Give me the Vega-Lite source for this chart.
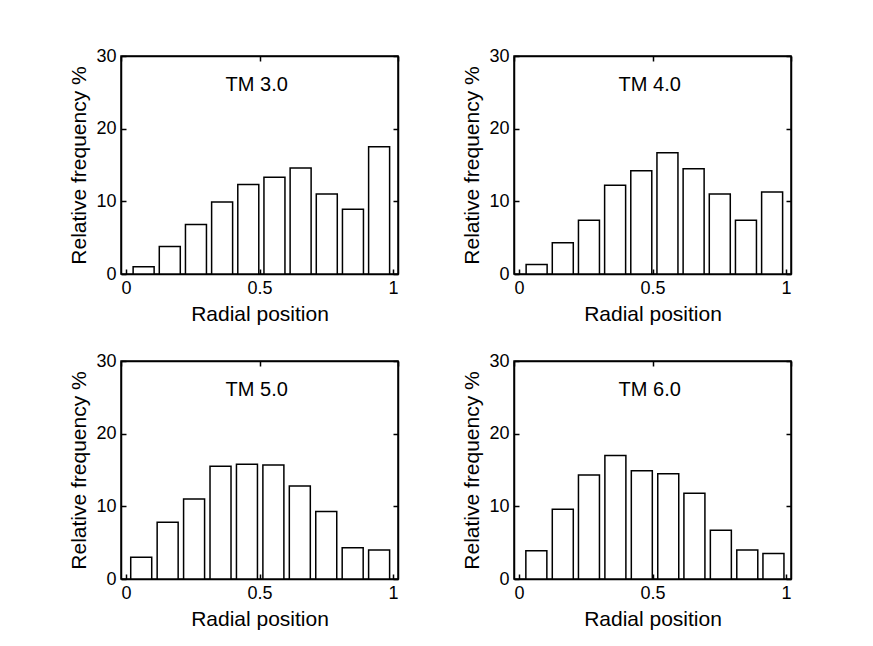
{
  "$schema": "https://vega.github.io/schema/vega-lite/v6.json",
  "padding": {"left": 68, "top": 46, "right": 5, "bottom": 5},
  "background": "white",
  "datasets": {
    "hist": [
      {"panel": "TM 3.0", "x": 0.066, "y": 1.0},
      {"panel": "TM 3.0", "x": 0.164, "y": 3.8},
      {"panel": "TM 3.0", "x": 0.262, "y": 6.8},
      {"panel": "TM 3.0", "x": 0.360, "y": 9.9},
      {"panel": "TM 3.0", "x": 0.458, "y": 12.3},
      {"panel": "TM 3.0", "x": 0.556, "y": 13.3},
      {"panel": "TM 3.0", "x": 0.654, "y": 14.6},
      {"panel": "TM 3.0", "x": 0.752, "y": 11.0},
      {"panel": "TM 3.0", "x": 0.850, "y": 8.9},
      {"panel": "TM 3.0", "x": 0.948, "y": 17.5},
      {"panel": "TM 4.0", "x": 0.066, "y": 1.3},
      {"panel": "TM 4.0", "x": 0.164, "y": 4.3},
      {"panel": "TM 4.0", "x": 0.262, "y": 7.4},
      {"panel": "TM 4.0", "x": 0.360, "y": 12.2},
      {"panel": "TM 4.0", "x": 0.458, "y": 14.2},
      {"panel": "TM 4.0", "x": 0.556, "y": 16.7},
      {"panel": "TM 4.0", "x": 0.654, "y": 14.5},
      {"panel": "TM 4.0", "x": 0.752, "y": 11.0},
      {"panel": "TM 4.0", "x": 0.850, "y": 7.4},
      {"panel": "TM 4.0", "x": 0.948, "y": 11.3},
      {"panel": "TM 5.0", "x": 0.057, "y": 3.0},
      {"panel": "TM 5.0", "x": 0.156, "y": 7.8},
      {"panel": "TM 5.0", "x": 0.255, "y": 11.0},
      {"panel": "TM 5.0", "x": 0.354, "y": 15.5},
      {"panel": "TM 5.0", "x": 0.453, "y": 15.8},
      {"panel": "TM 5.0", "x": 0.552, "y": 15.7},
      {"panel": "TM 5.0", "x": 0.651, "y": 12.8},
      {"panel": "TM 5.0", "x": 0.750, "y": 9.3},
      {"panel": "TM 5.0", "x": 0.849, "y": 4.3},
      {"panel": "TM 5.0", "x": 0.948, "y": 4.0},
      {"panel": "TM 6.0", "x": 0.065, "y": 3.9},
      {"panel": "TM 6.0", "x": 0.164, "y": 9.6},
      {"panel": "TM 6.0", "x": 0.262, "y": 14.3},
      {"panel": "TM 6.0", "x": 0.361, "y": 17.0},
      {"panel": "TM 6.0", "x": 0.460, "y": 14.9},
      {"panel": "TM 6.0", "x": 0.559, "y": 14.5},
      {"panel": "TM 6.0", "x": 0.657, "y": 11.8},
      {"panel": "TM 6.0", "x": 0.756, "y": 6.7},
      {"panel": "TM 6.0", "x": 0.855, "y": 4.0},
      {"panel": "TM 6.0", "x": 0.953, "y": 3.5}
    ]
  },
  "columns": 2,
  "spacing": {"row": 87, "column": 116},
  "bounds": "flush",
  "concat": [
    {
      "width": 277, "height": 218,
      "layer": [
        {
          "data": {"name": "hist"},
          "transform": [{"filter": "datum.panel == 'TM 3.0'"}],
          "mark": {"type": "bar", "fill": "white", "stroke": "black", "strokeWidth": 1.5, "size": 21},
          "encoding": {
            "x": {"field": "x", "type": "quantitative", "scale": {"domain": [0, 1], "nice": false, "zero": false}, "axis": {"values": [0, 0.5, 1], "format": "~g", "title": "Radial position"}},
            "y": {"field": "y", "type": "quantitative", "scale": {"domain": [0, 30], "nice": false}, "axis": {"values": [0, 10, 20, 30], "title": "Relative frequency %"}}
          }
        },
        {
          "data": {"values": [{"panel": "TM 3.0"}]},
          "mark": {"type": "text", "font": "Liberation Sans", "fontSize": 20, "baseline": "alphabetic", "color": "black"},
          "encoding": {
            "x": {"datum": 0.49, "type": "quantitative", "scale": {"domain": [0, 1], "nice": false, "zero": false}, "axis": {"orient": "top", "labels": false, "title": null, "values": [0, 0.5, 1]}},
            "y": {"datum": 25.2, "type": "quantitative", "scale": {"domain": [0, 30], "nice": false}, "axis": {"orient": "right", "labels": false, "title": null, "values": [0, 10, 20, 30]}},
            "text": {"field": "panel"}
          }
        }
      ],
      "resolve": {"scale": {"x": "independent", "y": "independent"}}
    },
    {
      "width": 277, "height": 218,
      "layer": [
        {
          "data": {"name": "hist"},
          "transform": [{"filter": "datum.panel == 'TM 4.0'"}],
          "mark": {"type": "bar", "fill": "white", "stroke": "black", "strokeWidth": 1.5, "size": 21},
          "encoding": {
            "x": {"field": "x", "type": "quantitative", "scale": {"domain": [0, 1], "nice": false, "zero": false}, "axis": {"values": [0, 0.5, 1], "format": "~g", "title": "Radial position"}},
            "y": {"field": "y", "type": "quantitative", "scale": {"domain": [0, 30], "nice": false}, "axis": {"values": [0, 10, 20, 30], "title": "Relative frequency %"}}
          }
        },
        {
          "data": {"values": [{"panel": "TM 4.0"}]},
          "mark": {"type": "text", "font": "Liberation Sans", "fontSize": 20, "baseline": "alphabetic", "color": "black"},
          "encoding": {
            "x": {"datum": 0.49, "type": "quantitative", "scale": {"domain": [0, 1], "nice": false, "zero": false}, "axis": {"orient": "top", "labels": false, "title": null, "values": [0, 0.5, 1]}},
            "y": {"datum": 25.2, "type": "quantitative", "scale": {"domain": [0, 30], "nice": false}, "axis": {"orient": "right", "labels": false, "title": null, "values": [0, 10, 20, 30]}},
            "text": {"field": "panel"}
          }
        }
      ],
      "resolve": {"scale": {"x": "independent", "y": "independent"}}
    },
    {
      "width": 277, "height": 218,
      "layer": [
        {
          "data": {"name": "hist"},
          "transform": [{"filter": "datum.panel == 'TM 5.0'"}],
          "mark": {"type": "bar", "fill": "white", "stroke": "black", "strokeWidth": 1.5, "size": 21},
          "encoding": {
            "x": {"field": "x", "type": "quantitative", "scale": {"domain": [0, 1], "nice": false, "zero": false}, "axis": {"values": [0, 0.5, 1], "format": "~g", "title": "Radial position"}},
            "y": {"field": "y", "type": "quantitative", "scale": {"domain": [0, 30], "nice": false}, "axis": {"values": [0, 10, 20, 30], "title": "Relative frequency %"}}
          }
        },
        {
          "data": {"values": [{"panel": "TM 5.0"}]},
          "mark": {"type": "text", "font": "Liberation Sans", "fontSize": 20, "baseline": "alphabetic", "color": "black"},
          "encoding": {
            "x": {"datum": 0.49, "type": "quantitative", "scale": {"domain": [0, 1], "nice": false, "zero": false}, "axis": {"orient": "top", "labels": false, "title": null, "values": [0, 0.5, 1]}},
            "y": {"datum": 25.2, "type": "quantitative", "scale": {"domain": [0, 30], "nice": false}, "axis": {"orient": "right", "labels": false, "title": null, "values": [0, 10, 20, 30]}},
            "text": {"field": "panel"}
          }
        }
      ],
      "resolve": {"scale": {"x": "independent", "y": "independent"}}
    },
    {
      "width": 277, "height": 218,
      "layer": [
        {
          "data": {"name": "hist"},
          "transform": [{"filter": "datum.panel == 'TM 6.0'"}],
          "mark": {"type": "bar", "fill": "white", "stroke": "black", "strokeWidth": 1.5, "size": 21},
          "encoding": {
            "x": {"field": "x", "type": "quantitative", "scale": {"domain": [0, 1], "nice": false, "zero": false}, "axis": {"values": [0, 0.5, 1], "format": "~g", "title": "Radial position"}},
            "y": {"field": "y", "type": "quantitative", "scale": {"domain": [0, 30], "nice": false}, "axis": {"values": [0, 10, 20, 30], "title": "Relative frequency %"}}
          }
        },
        {
          "data": {"values": [{"panel": "TM 6.0"}]},
          "mark": {"type": "text", "font": "Liberation Sans", "fontSize": 20, "baseline": "alphabetic", "color": "black"},
          "encoding": {
            "x": {"datum": 0.49, "type": "quantitative", "scale": {"domain": [0, 1], "nice": false, "zero": false}, "axis": {"orient": "top", "labels": false, "title": null, "values": [0, 0.5, 1]}},
            "y": {"datum": 25.2, "type": "quantitative", "scale": {"domain": [0, 30], "nice": false}, "axis": {"orient": "right", "labels": false, "title": null, "values": [0, 10, 20, 30]}},
            "text": {"field": "panel"}
          }
        }
      ],
      "resolve": {"scale": {"x": "independent", "y": "independent"}}
    }
  ],
  "config": {
    "view": {"stroke": "black", "strokeWidth": 1.5},
    "axis": {
      "grid": false,
      "labelFont": "Liberation Sans", "labelFontSize": 18, "labelColor": "black",
      "titleFont": "Liberation Sans", "titleFontSize": 21, "titleFontWeight": "normal", "titleColor": "black",
      "domainColor": "black", "domainWidth": 1.5,
      "tickColor": "black", "tickWidth": 1.5, "tickSize": -5,
      "labelPadding": 10, "titlePadding": 6
    }
  }
}
